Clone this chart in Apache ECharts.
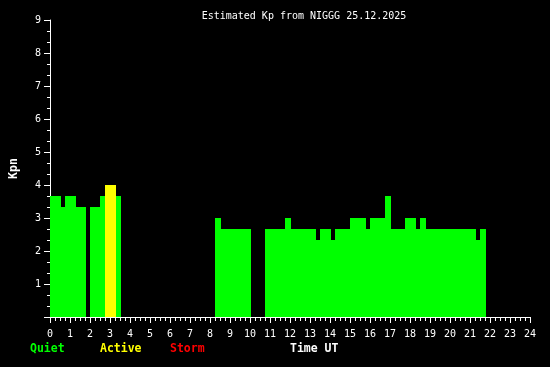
<!DOCTYPE html>
<html>
<head>
<meta charset="utf-8">
<script src="https://cdn.jsdelivr.net/npm/echarts@6/dist/echarts.min.js"></script>
<style>
html,body{margin:0;padding:0;background:#000;}
#chart{width:550px;height:367px;}
</style>
</head>
<body>
<div id="chart"></div>
<script>
// Segment start/end times (hours UT) and estimated Kp values
var segStart = [0, 0.55, 0.75, 1.3, 2.0, 2.5, 2.75, 3.3,
  8.25, 8.55, 10.75, 11.75, 12.05, 13.3, 13.5, 14.05, 14.25, 15.0, 15.8, 16.0, 16.75, 17.05, 17.75, 18.3, 18.5, 18.8, 21.3, 21.5];
var segEnd = [0.55, 0.75, 1.3, 1.8, 2.5, 2.75, 3.3, 3.55,
  8.55, 10.05, 11.75, 12.05, 13.3, 13.5, 14.05, 14.25, 15.0, 15.8, 16.0, 16.75, 17.05, 17.75, 18.3, 18.5, 18.8, 21.3, 21.5, 21.8];
var kpValues = [3.67, 3.33, 3.67, 3.33, 3.33, 3.67, 4.0, 3.67,
  3.0, 2.67, 2.67, 3.0, 2.67, 2.33, 2.67, 2.33, 2.67, 3.0, 2.67, 3.0, 3.67, 2.67, 3.0, 2.67, 3.0, 2.67, 2.33, 2.67];

var legendItems = ['Quiet', 'Active', 'Storm'];
var legendColors = ['#00ff00', '#ffff00', '#ff0000'];

var data = segStart.map(function (s, i) { return [s, segEnd[i], kpValues[i]]; });
var font = 'DejaVu Sans Mono';

var chart = echarts.init(document.getElementById('chart'), null, {renderer: 'canvas'});
chart.setOption({
  backgroundColor: '#000',
  animation: false,
  title: {
    text: 'Estimated Kp from NIGGG 25.12.2025',
    left: 299, top: 6, textAlign: 'center',
    textStyle: {color: '#fff', fontFamily: font, fontSize: 10, fontWeight: 'normal'}
  },
  grid: {left: 50, right: 20, top: 20, bottom: 50, containLabel: false, outerBoundsMode: 'none'},
  xAxis: {
    type: 'value', min: 0, max: 24, interval: 1,
    axisLine: {show: true, lineStyle: {color: '#fff', width: 1}},
    axisTick: {show: true, length: 6, lineStyle: {color: '#fff'}},
    minorTick: {show: true, splitNumber: 4, length: 4, lineStyle: {color: '#fff'}},
    splitLine: {show: false},
    axisLabel: {color: '#fff', fontFamily: font, fontSize: 10, margin: 12}
  },
  yAxis: {
    type: 'value', min: 0, max: 9, interval: 1,
    name: 'Kpn', nameLocation: 'middle', nameGap: 30, nameRotate: 90,
    nameTextStyle: {color: '#fff', fontFamily: font, fontSize: 11.5, fontWeight: 'bold'},
    axisLine: {show: true, lineStyle: {color: '#fff', width: 1}},
    axisTick: {show: true, length: 6, lineStyle: {color: '#fff'}},
    minorTick: {show: true, splitNumber: 3, length: 3, lineStyle: {color: '#fff'}},
    splitLine: {show: false},
    axisLabel: {color: '#fff', fontFamily: font, fontSize: 10, margin: 9, showMinLabel: false}
  },
  graphic: [
    {type: 'text', left: 30, top: 343, style: {text: legendItems[0], fill: legendColors[0], font: 'bold 11.5px ' + font}},
    {type: 'text', left: 100, top: 343, style: {text: legendItems[1], fill: legendColors[1], font: 'bold 11.5px ' + font}},
    {type: 'text', left: 170, top: 343, style: {text: legendItems[2], fill: legendColors[2], font: 'bold 11.5px ' + font}},
    {type: 'text', left: 290, top: 343, style: {text: 'Time UT', fill: '#fff', font: 'bold 11.5px ' + font}}
  ],
  series: [{
    type: 'custom',
    clip: true,
    data: data,
    encode: {x: [0, 1], y: 2},
    renderItem: function (params, api) {
      var s = api.value(0), e = api.value(1), v = api.value(2);
      var p0 = api.coord([s, v]);
      var p1 = api.coord([e, 0]);
      var x0 = Math.round(p0[0]), x1 = Math.round(p1[0]);
      var y0 = Math.round(p0[1]), y1 = Math.round(p1[1]);
      var color = v >= 5 ? legendColors[2] : (v >= 4 ? legendColors[1] : legendColors[0]);
      return {
        type: 'rect',
        shape: {x: x0, y: y0, width: x1 - x0, height: y1 - y0},
        style: {fill: color, stroke: null}
      };
    }
  }]
});
</script>
</body>
</html>
